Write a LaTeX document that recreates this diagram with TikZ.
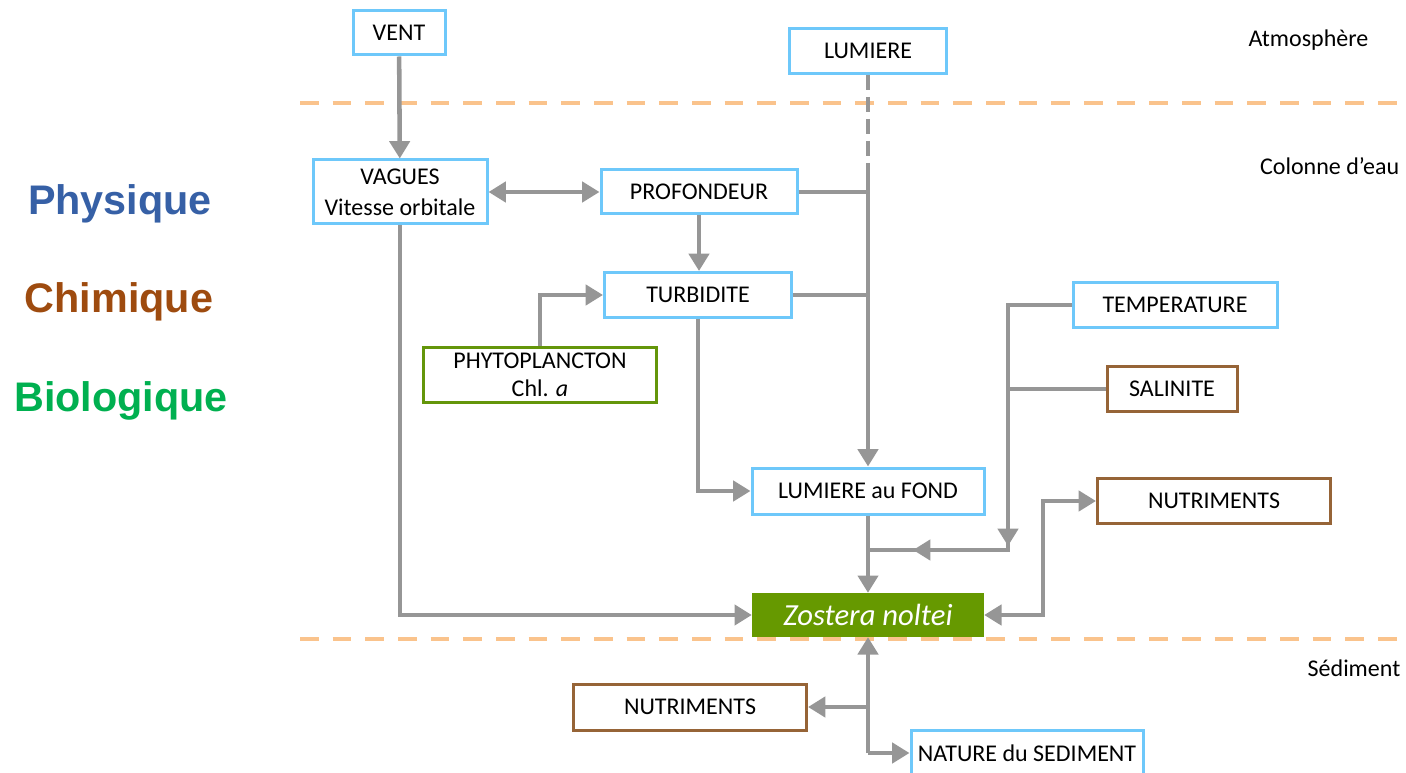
\documentclass[tikz,border=0pt]{standalone}
\usepackage{fontspec}
\setmainfont{Carlito}
\newfontfamily\arialfont{Liberation Sans}
\usetikzlibrary{arrows.meta}
\definecolor{bblue}{RGB}{110,200,250}
\definecolor{bbrown}{RGB}{150,100,55}
\definecolor{bgreen}{RGB}{100,150,10}
\definecolor{zgreen}{RGB}{102,153,0}
\definecolor{cgray}{RGB}{150,150,150}
\definecolor{dorange}{RGB}{250,195,140}
\definecolor{physc}{RGB}{54,96,166}
\definecolor{chimc}{RGB}{158,75,15}
\definecolor{bioc}{RGB}{0,176,80}
\begin{document}
\begin{tikzpicture}[x=0.75pt,y=-0.75pt,
  bx/.style={draw, line width=2.25pt, fill=white, inner sep=0pt, align=center,
    font=\fontsize{18}{21}\selectfont},
  blu/.style={bx, draw=bblue},
  brn/.style={bx, draw=bbrown},
  grn/.style={bx, draw=bgreen},
  conn/.style={draw=cgray, line width=3.4pt},
  tip/.style={-{Triangle[length=13pt,width=15pt]}},
  dtip/.style={{Triangle[length=13pt,width=15pt]}-{Triangle[length=13pt,width=15pt]}},
  layer/.style={draw=dorange, line width=3pt, dash pattern=on 14pt off 10.5pt},
  zone/.style={anchor=east, font=\fontsize{18}{21}\selectfont},
  cat/.style={font=\arialfont\bfseries\fontsize{31}{36}\selectfont}
]
\useasboundingbox (0,0) rectangle (1406,773);

% layer separators
\draw[layer] (300,103) -- (1406,103);
\draw[layer] (300,639) -- (1406,639);

% zone labels
\node[zone] (atm) at (1373,40) {Atmosphère};
\node[zone] (col) at (1404,166) {Colonne d’eau};
\node[zone] (sed) at (1405,668) {Sédiment};

% category labels
\node[cat, text=physc] (phys) at (120,204) {Physique};
\node[cat, text=chimc] (chim) at (119,302) {Chimique};
\node[cat, text=bioc] (bio) at (121,401) {Biologique};

% boxes
\node[blu, minimum width={92*0.75pt}, minimum height={44*0.75pt}] (vent) at (399,33) {VENT};
\node[blu, minimum width={157*0.75pt}, minimum height={45*0.75pt}] (lum) at (868,51) {LUMIERE};
\node[blu, minimum width={174*0.75pt}, minimum height={64*0.75pt}] (vag) at (400,192) {VAGUES\\[2pt]Vitesse orbitale};
\node[blu, minimum width={196*0.75pt}, minimum height={44*0.75pt}] (prof) at (699,192) {PROFONDEUR};
\node[blu, minimum width={187*0.75pt}, minimum height={45*0.75pt}] (turb) at (698,295) {TURBIDITE};
\node[grn, minimum width={233*0.75pt}, minimum height={55*0.75pt}] (phyto) at (540,375) {PHYTOPLANCTON\\Chl. \textit{a}};
\node[blu, minimum width={232*0.75pt}, minimum height={46*0.75pt}] (lumf) at (868,491) {LUMIERE au FOND};
\node[draw=zgreen, fill=zgreen, line width=1pt, inner sep=0pt, minimum width={231*0.75pt}, minimum height={43*0.75pt}, text=white, font=\itshape\fontsize{23}{27}\selectfont] (zost) at (868,615) {Zostera noltei};
\node[blu, minimum width={204*0.75pt}, minimum height={45*0.75pt}] (temp) at (1175,305) {TEMPERATURE};
\node[brn, minimum width={130*0.75pt}, minimum height={45*0.75pt}] (sal) at (1172,389) {SALINITE};
\node[brn, minimum width={233*0.75pt}, minimum height={45*0.75pt}] (nut1) at (1214,501) {NUTRIMENTS};
\node[brn, minimum width={233*0.75pt}, minimum height={46*0.75pt}] (nut2) at (690,707) {NUTRIMENTS};
\node[blu, minimum width={232*0.75pt}, minimum height={46*0.75pt}] (nat) at (1027,753) {NATURE du SEDIMENT};

% junction coordinates
\coordinate (lj) at (868,177);
\coordinate (tj) at (1008,550);
\coordinate (ta) at (1008,522);
\coordinate (tb) at (1008,546);
\coordinate (zj) at (868,550);
\coordinate (la) at (955,550);
\coordinate (lb) at (913,550);
\coordinate (nj) at (1043,615);
\coordinate (bj) at (868,753);
\coordinate (bm) at (868,707);

% connectors
\draw[conn, tip] (vent) -- (vag);
\draw[conn, dash pattern=on 11pt off 5.5pt] (lum.south) -- (lj);
\draw[conn, tip] (lj) -- (lumf.north);
\draw[conn] (prof.east) -- (prof.east -| lj);
\draw[conn] (turb.east) -- (turb.east -| lj);
\draw[conn, dtip] (vag.east) -- (prof.west);
\draw[conn, tip] (prof.south) -- (prof.south |- turb.north);
\draw[conn, tip] (phyto.north) |- (turb.west);
\draw[conn, tip] (turb.south) |- (lumf.west);
\draw[conn, tip] (vag.south) |- (zost.west);
\draw[conn, tip] (lumf.south) -- (zost.north);
\draw[conn] (temp.west) -| (tj) -- (zj);
\draw[conn] (sal.west) -- (sal.west -| tj);
\draw[conn, tip] (ta) -- (tb);
\draw[conn, tip] (la) -- (lb);
\draw[conn, dtip] (zost.east) -- (nj) |- (nut1.west);
\draw[conn, tip] (bj) -- (zost.south);
\draw[conn, tip] (bm) -- (nut2.east);
\draw[conn, tip] (bj) -- (nat.west);
\end{tikzpicture}
\end{document}
